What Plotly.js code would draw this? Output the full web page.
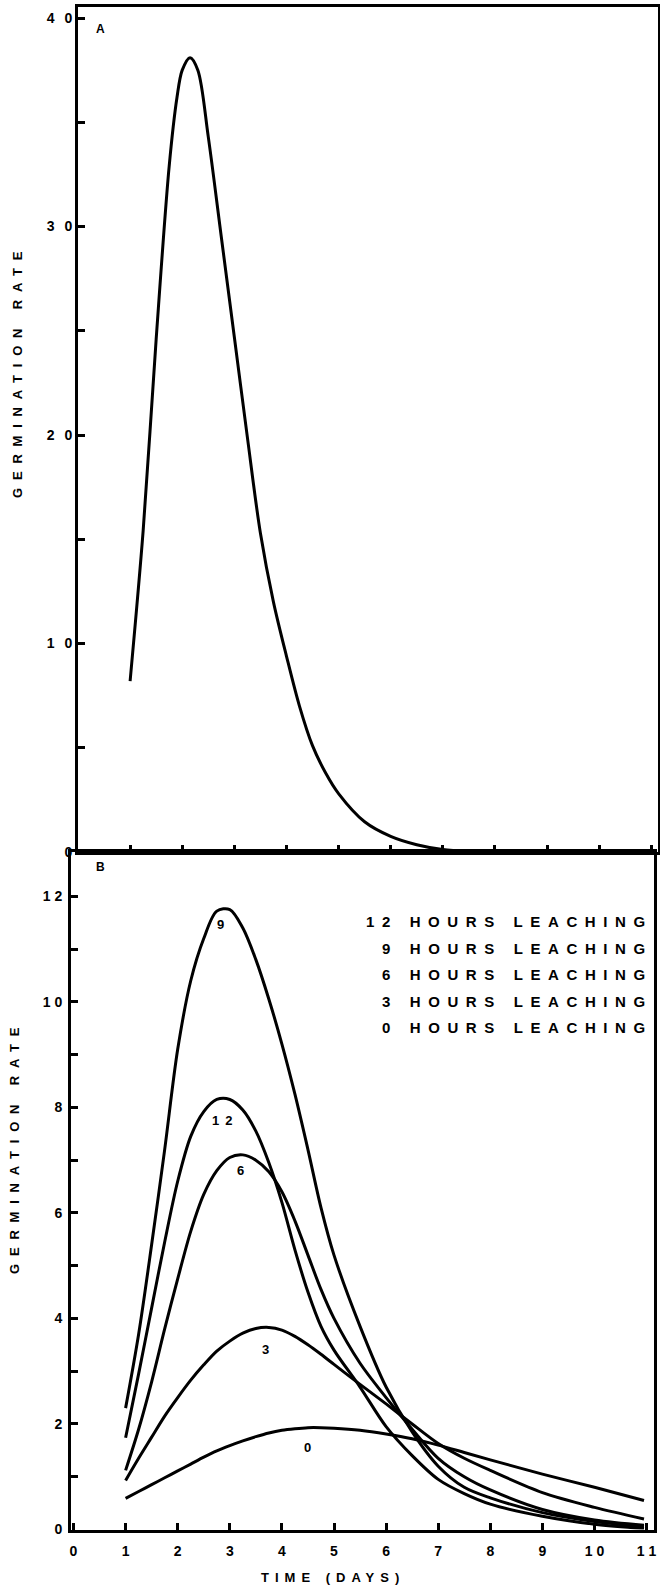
<!DOCTYPE html>
<html>
<head>
<meta charset="utf-8">
<script src="https://cdn.plot.ly/plotly-3.0.1.min.js"></script>
<style>
html, body { margin: 0; padding: 0; background: #fff; }
#chart { width: 660px; height: 1586px; }
.xtick text, .ytick text { letter-spacing: 3px; font-weight: 700 !important; }
.annotation-text { font-weight: 700 !important; }
</style>
</head>
<body>
<div id="chart"></div>
<script>
// ---------- Panel A data ----------
const daysA = [1, 1.25, 1.5, 1.75, 1.9, 2.0, 2.15, 2.3, 2.5, 2.75, 3, 3.25, 3.5, 3.75, 4, 4.25, 4.5, 4.75, 5, 5.5, 6, 6.5, 7, 7.5, 8];
const rateA = [8.2, 15.4, 24.6, 32.9, 36.2, 37.5, 38.1, 37.5, 34.3, 29.5, 24.7, 19.9, 15.3, 12.0, 9.4, 7.0, 5.1, 3.8, 2.8, 1.45, 0.75, 0.35, 0.12, 0.03, 0];

// ---------- Panel B data ----------
const daysB = [1, 1.25, 1.5, 1.75, 2, 2.25, 2.5, 2.75, 3, 3.25, 3.5, 3.75, 4, 4.25, 4.5, 4.75, 5, 5.5, 6, 6.5, 7, 7.5, 8, 9, 10, 10.95];
const rate12h = [1.74, 2.95, 4.2, 5.45, 6.6, 7.45, 7.92, 8.15, 8.15, 7.95, 7.55, 6.95, 6.2, 5.3, 4.5, 3.85, 3.4, 2.7, 1.95, 1.4, 0.95, 0.68, 0.48, 0.25, 0.1, 0.02];
const rate9h  = [2.3, 3.7, 5.4, 7.2, 9.1, 10.4, 11.2, 11.72, 11.75, 11.4, 10.8, 10.05, 9.2, 8.25, 7.2, 6.1, 5.2, 3.85, 2.7, 1.85, 1.2, 0.8, 0.6, 0.32, 0.15, 0.05];
const rate6h  = [1.12, 1.9, 2.8, 3.8, 4.75, 5.65, 6.35, 6.8, 7.05, 7.1, 7.0, 6.78, 6.4, 5.85, 5.2, 4.55, 4.0, 3.15, 2.5, 1.9, 1.35, 1.0, 0.75, 0.38, 0.18, 0.08];
const rate3h  = [0.93, 1.35, 1.75, 2.15, 2.5, 2.83, 3.12, 3.38, 3.57, 3.72, 3.81, 3.83, 3.78, 3.66, 3.5, 3.32, 3.13, 2.75, 2.38, 2.0, 1.63, 1.35, 1.12, 0.7, 0.42, 0.2];
const rate0h  = [0.59, 0.72, 0.85, 0.98, 1.11, 1.24, 1.37, 1.49, 1.59, 1.68, 1.76, 1.83, 1.88, 1.91, 1.93, 1.93, 1.92, 1.88, 1.81, 1.72, 1.6, 1.46, 1.32, 1.05, 0.8, 0.55];

// curve labels (hours of leaching) and where they sit
const curveLabels = ['9', '12', '6', '3', '0'];
const curveLabelX = [2.83, 2.845, 3.21, 3.69, 4.49];
const curveLabelY = [11.46, 7.75, 6.81, 3.42, 1.55];

// legend text lines
const legendLines = ['12 HOURS LEACHING', '9 HOURS LEACHING', '6 HOURS LEACHING', '3 HOURS LEACHING', '0 HOURS LEACHING'];

// ticks
const xTickVals = [0, 1, 2, 3, 4, 5, 6, 7, 8, 9, 10, 11];
const xTickText = ['0', '1', '2', '3', '4', '5', '6', '7', '8', '9', '1 0', '1 1'];
const yTickValsA = [0, 5, 10, 15, 20, 25, 30, 35, 40];
const yTickTextA = ['0', '', '1 0', '', '2 0', '', '3 0', '', '4 0'];
const yTickValsB = [0, 1, 2, 3, 4, 5, 6, 7, 8, 9, 10, 11, 12];
const yTickTextB = ['0', '', '2', '', '4', '', '6', '', '8', '', '1 0', '', '1 2'];

// ---------- layout helpers (pixel geometry of the page) ----------
const W = 660, H = 1586;
const px = v => v / W;
const py = v => 1 - v / H;

const FONT = 'Liberation Sans, Arial, Helvetica, sans-serif';
const lineStyle = { color: '#000', width: 3, shape: 'spline', smoothing: 0.9 };

const traces = [
  { x: daysA, y: rateA, xaxis: 'x', yaxis: 'y', mode: 'lines', line: lineStyle, name: 'A' },
  { x: daysB, y: rate12h, xaxis: 'x2', yaxis: 'y2', mode: 'lines', line: lineStyle, name: '12 h' },
  { x: daysB, y: rate9h, xaxis: 'x2', yaxis: 'y2', mode: 'lines', line: lineStyle, name: '9 h' },
  { x: daysB, y: rate6h, xaxis: 'x2', yaxis: 'y2', mode: 'lines', line: lineStyle, name: '6 h' },
  { x: daysB, y: rate3h, xaxis: 'x2', yaxis: 'y2', mode: 'lines', line: lineStyle, name: '3 h' },
  { x: daysB, y: rate0h, xaxis: 'x2', yaxis: 'y2', mode: 'lines', line: lineStyle, name: '0 h' }
];

const tickFont = { family: FONT, size: 14, color: '#000', weight: 'bold' };
const axisCommon = {
  showgrid: false, zeroline: false, showline: true, linecolor: '#000', linewidth: 3,
  mirror: true, ticks: 'inside', ticklen: 7, tickwidth: 3, tickcolor: '#000',
  tickfont: tickFont, fixedrange: true
};

const annotations = [];
const spaced = (t, s) => '<b><span style="letter-spacing:' + s + 'px">' + t + '</span></b>';

// panel letters
annotations.push({ xref: 'paper', yref: 'paper', x: px(100), y: py(29), text: '<b>A</b>', showarrow: false,
  font: { family: FONT, size: 12, weight: 'bold', color: '#000' }, xanchor: 'center', yanchor: 'middle' });
annotations.push({ xref: 'paper', yref: 'paper', x: px(100), y: py(867), text: '<b>B</b>', showarrow: false,
  font: { family: FONT, size: 12, weight: 'bold', color: '#000' }, xanchor: 'center', yanchor: 'middle' });

// legend lines
const legendY = [922, 948, 974.5, 1001, 1027];
legendLines.forEach((t, i) => {
  annotations.push({ xref: 'paper', yref: 'paper', x: px(654.5), y: py(legendY[i]), text: spaced(t, 7.6),
    showarrow: false, xanchor: 'right', yanchor: 'middle',
    font: { family: FONT, size: 15, weight: 'bold', color: '#000' } });
});

// curve labels
curveLabels.forEach((t, i) => {
  annotations.push({ xref: 'x2', yref: 'y2', x: curveLabelX[i], y: curveLabelY[i], text: spaced(t, 6),
    showarrow: false, xanchor: 'center', yanchor: 'middle', xshift: 3,
    font: { family: FONT, size: 13, weight: 'bold', color: '#000' } });
});

// axis titles
annotations.push({ xref: 'paper', yref: 'paper', x: px(17), y: py(371), text: spaced('GERMINATION RATE', 7.8),
  textangle: -90, showarrow: false, xanchor: 'center', yanchor: 'middle',
  font: { family: FONT, size: 13, weight: 'bold', color: '#000' } });
annotations.push({ xref: 'paper', yref: 'paper', x: px(14), y: py(1147), text: spaced('GERMINATION RATE', 7.8),
  textangle: -90, showarrow: false, xanchor: 'center', yanchor: 'middle',
  font: { family: FONT, size: 13, weight: 'bold', color: '#000' } });
annotations.push({ xref: 'paper', yref: 'paper', x: px(333), y: py(1577), text: spaced('TIME (DAYS)', 6),
  showarrow: false, xanchor: 'center', yanchor: 'middle',
  font: { family: FONT, size: 13, weight: 'bold', color: '#000' } });

const layout = {
  width: W, height: H,
  margin: { l: 0, r: 0, t: 0, b: 0, pad: 0 },
  paper_bgcolor: '#fff', plot_bgcolor: 'rgba(0,0,0,0)',
  showlegend: false,
  font: { family: FONT, color: '#000', weight: 'bold' },
  xaxis: Object.assign({}, axisCommon, {
    domain: [px(78), px(658)], range: [0, 11.13], anchor: 'y',
    tickmode: 'array', tickvals: xTickVals, ticktext: xTickText, showticklabels: false
  }),
  yaxis: Object.assign({}, axisCommon, {
    domain: [py(852), py(7)], range: [0, 40.53], anchor: 'x',
    tickmode: 'array', tickvals: yTickValsA, ticktext: yTickTextA, ticklabelstandoff: -3
  }),
  xaxis2: Object.assign({}, axisCommon, {
    domain: [px(71), px(654)], range: [-0.048, 11.142], anchor: 'y2',
    tickmode: 'array', tickvals: xTickVals, ticktext: xTickText, ticklabelstandoff: 7
  }),
  yaxis2: Object.assign({}, axisCommon, {
    domain: [py(1529.5), py(852)], range: [0, 12.84], anchor: 'x2',
    tickmode: 'array', tickvals: yTickValsB, ticktext: yTickTextB, ticklabelstandoff: 3
  }),
  annotations: annotations
};

Plotly.newPlot('chart', traces, layout, { staticPlot: true, displayModeBar: false });
</script>
</body>
</html>
